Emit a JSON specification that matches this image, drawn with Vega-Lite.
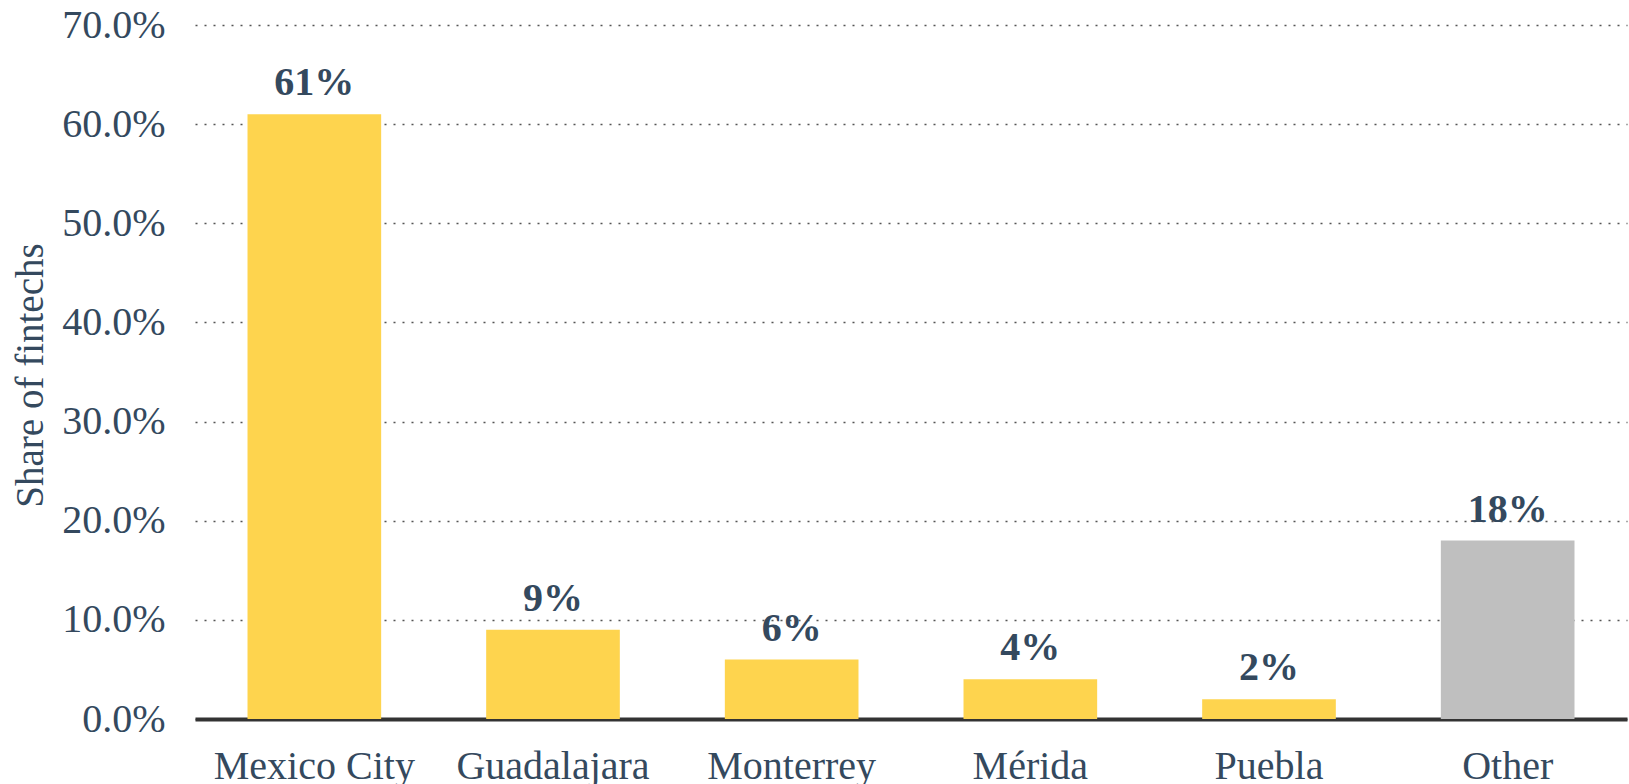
{
  "$schema": "https://vega.github.io/schema/vega-lite/v6.json",
  "width": 1432,
  "height": 694,
  "autosize": {"type": "none"},
  "padding": {"left": 195, "top": 25, "right": 2, "bottom": 65},
  "background": "#ffffff",
  "config": {
    "view": {"stroke": null},
    "font": "Liberation Serif"
  },
  "data": {
    "values": [
      {"city": "Mexico City", "share": 61, "label": "61%", "group": "city"},
      {"city": "Guadalajara", "share": 9, "label": "9%", "group": "city"},
      {"city": "Monterrey", "share": 6, "label": "6%", "group": "city"},
      {"city": "Mérida", "share": 4, "label": "4%", "group": "city"},
      {"city": "Puebla", "share": 2, "label": "2%", "group": "city"},
      {"city": "Other", "share": 18, "label": "18%", "group": "other"}
    ]
  },
  "encoding": {
    "x": {
      "field": "city",
      "type": "nominal",
      "sort": null,
      "scale": {"paddingInner": 0.44, "paddingOuter": 0.22},
      "axis": {
        "title": null,
        "labelAngle": 0,
        "labelFont": "Liberation Serif",
        "labelFontSize": 40,
        "labelColor": "#34495e",
        "labelPadding": 27,
        "labelLimit": 0,
        "ticks": false,
        "domain": true,
        "domainColor": "#333333",
        "domainWidth": 4,
        "grid": false
      }
    },
    "y": {
      "field": "share",
      "type": "quantitative",
      "scale": {"domain": [0, 70], "nice": false},
      "axis": {
        "title": "Share of fintechs",
        "titleFont": "Liberation Serif",
        "titleFontSize": 39,
        "titleFontWeight": "normal",
        "titleColor": "#34495e",
        "titleAngle": -90,
        "titleAlign": "center",
        "titleBaseline": "middle",
        "titleX": -165,
        "titleY": 350,
        "values": [0, 10, 20, 30, 40, 50, 60, 70],
        "labelExpr": "format(datum.value, '.1f') + '%'",
        "labelFont": "Liberation Serif",
        "labelFontSize": 40,
        "labelColor": "#34495e",
        "labelPadding": 30,
        "labelLimit": 0,
        "ticks": false,
        "domain": false,
        "grid": true,
        "gridColor": "#555555",
        "gridDash": [2, 7],
        "gridWidth": 1.5
      }
    }
  },
  "layer": [
    {
      "mark": {"type": "bar"},
      "encoding": {
        "color": {
          "field": "group",
          "type": "nominal",
          "scale": {"domain": ["city", "other"], "range": ["#fed44e", "#bfbfbf"]},
          "legend": null
        }
      }
    },
    {
      "mark": {
        "type": "text",
        "font": "Liberation Serif",
        "fontSize": 40,
        "fontWeight": "bold",
        "color": "#34495e",
        "baseline": "alphabetic",
        "dy": -19
      },
      "encoding": {
        "text": {"field": "label"}
      }
    }
  ]
}
